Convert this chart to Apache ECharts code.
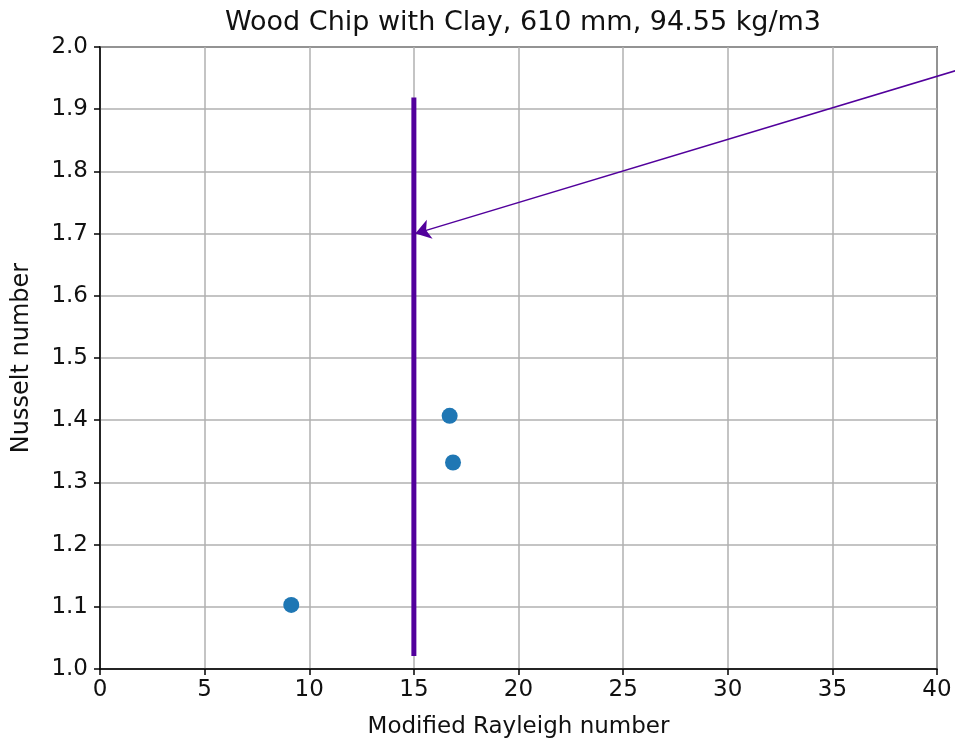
<!DOCTYPE html>
<html>
<head>
<meta charset="utf-8">
<script src="https://cdn.jsdelivr.net/npm/echarts@6/dist/echarts.min.js"></script>
<style>html,body{margin:0;padding:0;background:#fff;}#c{width:955px;height:739px;}</style>
</head>
<body>
<div id="c"></div>
<script>
const titleText = 'Wood Chip with Clay, 610 mm, 94.55 kg/m3';
const xName = 'Modified Rayleigh number';
const yName = 'Nusselt number';
const rayleigh = [9.14, 16.71, 16.87];
const nusselt = [1.103, 1.407, 1.332];
const vlineX = [15, 15];
const vlineY = [1.021, 1.919];
const arrowFrom = [41.0, 1.963];
const arrowTo = [15.07, 1.700];

const chart = echarts.init(document.getElementById('c'), null, {renderer: 'canvas'});
const font = 'DejaVu Sans';
chart.setOption({
  animation: false,
  backgroundColor: '#fff',
  title: {text: titleText, left: 518, top: 4, textAlign: 'center',
    textStyle: {fontFamily: font, fontSize: 27, fontWeight: 'normal', color: '#111'}},
  grid: {left: 100, right: 18, top: 47, bottom: 70, show: true, borderColor: '#000', borderWidth: 1.5,
    backgroundColor: 'transparent', outerBoundsMode: 'none', containLabel: false},
  xAxis: {type: 'value', min: 0, max: 40, interval: 5,
    name: xName, nameLocation: 'middle', nameGap: 58,
    nameTextStyle: {fontFamily: font, fontSize: 23, color: '#111', verticalAlign: 'middle'},
    axisLine: {show: true, lineStyle: {color: '#000', width: 1.5}},
    axisTick: {show: true, inside: false, length: 6, lineStyle: {color: '#000', width: 1.5}},
    axisLabel: {fontFamily: font, fontSize: 23, color: '#111', margin: 10},
    splitLine: {show: true, lineStyle: {color: '#b0b0b0', width: 1.5}}},
  yAxis: {type: 'value', min: 1, max: 2, interval: 0.1,
    name: yName, nameLocation: 'middle', nameGap: 78, nameRotate: 90,
    nameTextStyle: {fontFamily: font, fontSize: 24, color: '#111', verticalAlign: 'middle'},
    axisLine: {show: true, lineStyle: {color: '#000', width: 1.5}},
    axisTick: {show: true, inside: false, length: 6, lineStyle: {color: '#000', width: 1.5}},
    axisLabel: {fontFamily: font, fontSize: 23, color: '#111', margin: 12, formatter: v => v.toFixed(1)},
    splitLine: {show: true, lineStyle: {color: '#b0b0b0', width: 1.5}}},
  series: [
    {type: 'line', data: vlineX.map((x, i) => [x, vlineY[i]]), symbol: 'none',
      lineStyle: {color: '#52009c', width: 5}, z: 3},
    {type: 'scatter', data: rayleigh.map((x, i) => [x, nusselt[i]]), symbolSize: 16,
      itemStyle: {color: '#1f77b4', opacity: 1}, z: 4},
    {type: 'lines', coordinateSystem: 'cartesian2d', clip: false, z: 5,
      symbol: ['none', 'arrow'], symbolSize: 15,
      lineStyle: {color: '#52009c', width: 1.5, opacity: 1, curveness: 0},
      data: [{coords: [arrowFrom, arrowTo]}]}
  ]
});
</script>
</body>
</html>
